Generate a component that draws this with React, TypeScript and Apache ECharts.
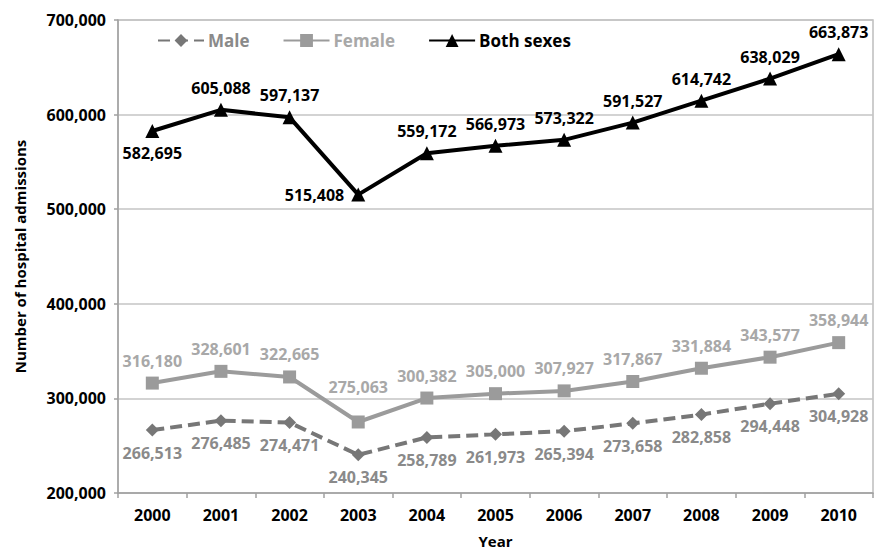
import React, { useEffect, useRef } from "react";
import * as echarts from "echarts";

const years = ["2000", "2001", "2002", "2003", "2004", "2005", "2006", "2007", "2008", "2009", "2010"];
const male = [266513, 276485, 274471, 240345, 258789, 261973, 265394, 273658, 282858, 294448, 304928];
const female = [316180, 328601, 322665, 275063, 300382, 305000, 307927, 317867, 331884, 343577, 358944];
const both = [582695, 605088, 597137, 515408, 559172, 566973, 573322, 591527, 614742, 638029, 663873];
// label side for the "Both sexes" points
const bothLabelPos = ["bottom", "top", "top", "left", "top", "top", "top", "top", "top", "top", "top"];

const FONT = "'Open Sans', 'DejaVu Sans', sans-serif";
const fmt = (v: number) => v.toLocaleString("en-US");

export default function App() {
  const ref = useRef<HTMLDivElement>(null);
  useEffect(() => {
    if (!ref.current) return;
    const chart = echarts.init(ref.current, null, { renderer: "svg" });
    const maleColor = "#777777";
    const maleLabel = "#8a8a8a";
    const femaleColor = "#9b9b9b";
    const femaleLabel = "#a8a8a8";
    const labelBase = { show: true, fontFamily: FONT, fontWeight: "bold" as const, fontSize: 16, formatter: (p: any) => fmt(p.value) };
    chart.setOption({
      animation: false,
      backgroundColor: "#ffffff",
      grid: {
        left: 118, right: 7, top: 20, bottom: 56,
        outerBoundsMode: "none",
        show: true, borderColor: "#bdbdbd", borderWidth: 1.5,
      },
      legend: {
        left: 152,
        top: 27,
        itemWidth: 46,
        itemHeight: 16,
        itemGap: 33,
        textStyle: { fontFamily: FONT, fontWeight: "bold", fontSize: 17, padding: [0, 0, 0, -1] },
        data: [
          { name: "Male", textStyle: { color: maleLabel } },
          { name: "Female", textStyle: { color: femaleLabel } },
          { name: "Both sexes", textStyle: { color: "#000" } },
        ],
      },
      xAxis: {
        type: "category",
        data: years,
        boundaryGap: true,
        name: "Year",
        nameLocation: "middle",
        nameGap: 40,
        nameTextStyle: { fontFamily: FONT, fontWeight: "bold", fontSize: 15, color: "#000" },
        axisLine: { lineStyle: { color: "#a0a0a0", width: 1.5 } },
        axisTick: { show: true, length: 5, alignWithLabel: false, lineStyle: { color: "#a0a0a0", width: 1.5 } },
        axisLabel: { fontFamily: FONT, fontWeight: "bold", fontSize: 16, color: "#000", margin: 14 },
      },
      yAxis: {
        type: "value",
        min: 200000,
        max: 700000,
        interval: 100000,
        name: "Number of hospital admissions",
        nameLocation: "middle",
        nameGap: 91,
        nameTextStyle: { fontFamily: FONT, fontWeight: "bold", fontSize: 15, color: "#000" },
        axisLine: { show: true, lineStyle: { color: "#a0a0a0", width: 1.5 } },
        axisTick: { show: true, length: 4, lineStyle: { color: "#a0a0a0", width: 1.5 } },
        splitLine: { lineStyle: { color: "#c4c4c4", width: 1.5 } },
        axisLabel: { fontFamily: FONT, fontWeight: "bold", fontSize: 16, color: "#000", margin: 12, formatter: (v: number) => fmt(v) },
      },
      series: [
        {
          name: "Male",
          type: "line",
          data: male,
          symbol: "diamond",
          symbolSize: 13,
          itemStyle: { color: maleColor },
          lineStyle: { color: maleColor, width: 4, type: [12, 6] },
          label: { ...labelBase, position: "bottom", distance: 8, color: maleLabel },
          z: 2,
        },
        {
          name: "Female",
          type: "line",
          data: female.map((v, i) => (i === 3 ? { value: v, label: { distance: 20 } } : v)),
          symbol: "rect",
          symbolSize: 13,
          itemStyle: { color: femaleColor },
          lineStyle: { color: femaleColor, width: 4 },
          label: { ...labelBase, position: "top", distance: 8, color: femaleLabel },
          z: 3,
        },
        {
          name: "Both sexes",
          type: "line",
          data: both.map((v, i) => ({ value: v, label: { position: bothLabelPos[i] } })),
          symbol: "triangle",
          symbolSize: 14,
          itemStyle: { color: "#000" },
          lineStyle: { color: "#000", width: 4 },
          label: { ...labelBase, position: "top", distance: 7, color: "#000" },
          z: 4,
        },
      ],
    });
    return () => chart.dispose();
  }, []);
  return <div ref={ref} style={{ width: 880, height: 549, position: "absolute", left: 0, top: 0 }} />;
}
